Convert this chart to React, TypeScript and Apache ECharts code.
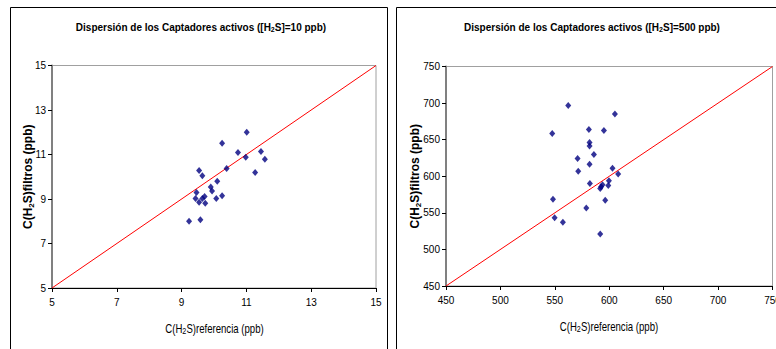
import React, { useEffect, useRef } from "react";
import * as echarts from "echarts";

const leftX = [9.23, 9.58, 9.43, 9.46, 9.54, 9.54, 9.64, 9.64, 9.71, 9.73, 9.9, 9.94, 10.07, 10.1, 10.25, 10.25, 10.39, 10.74, 11.01, 10.98, 11.27, 11.45, 11.57];
const leftY = [8.0, 8.07, 9.02, 9.29, 8.85, 10.28, 10.05, 9.02, 9.11, 8.81, 9.54, 9.36, 9.02, 9.8, 9.15, 11.51, 10.37, 11.09, 12.0, 10.88, 10.19, 11.13, 10.79];
const rightX = [562.3, 605.2, 581.3, 595.1, 547.6, 581.9, 581.9, 585.9, 570.9, 581.9, 603.0, 571.5, 608.2, 599.7, 582.2, 593.8, 592.5, 599.1, 591.7, 548.3, 596.3, 578.9, 549.8, 557.4, 591.7];
const rightY = [696.6, 685.2, 663.8, 662.4, 658.3, 646, 641.5, 629.6, 624.1, 616.4, 610.9, 606.8, 603.2, 594, 590, 588.5, 585.5, 587.2, 583.1, 568.5, 567.1, 556.7, 543.4, 537, 521.1];
const leftRange = [5, 15];
const rightRange = [450, 750];
const leftTitle = "Dispersión de los Captadores activos ([H{s|2}S]=10 ppb)";
const rightTitle = "Dispersión de los Captadores activos ([H{s|2}S]=500 ppb)";
const xName = "C(H{s|2}S)referencia (ppb)";
const yName = "C(H{s|2}S)filtros (ppb)";

const SANS = "'Liberation Sans', Arial, sans-serif";

export default function App() {
  const ref = useRef<HTMLDivElement>(null);
  useEffect(() => {
    if (!ref.current) return;
    const chart = echarts.init(ref.current, undefined, { renderer: "svg" });
    const titleStyle = {
      fontFamily: SANS,
      fontSize: 10,
      fontWeight: "bold",
      color: "#000",
      rich: {
        s: { fontFamily: SANS, fontSize: 7, fontWeight: "bold", verticalAlign: "bottom", lineHeight: 11 },
      },
    };
    const mkX = (gi: number, range: number[], interval: number) => ({
      type: "value",
      gridIndex: gi,
      min: range[0],
      max: range[1],
      interval,
      axisLine: { show: true, lineStyle: { color: "#000", width: 1 } },
      axisTick: { show: true, length: 4, lineStyle: { color: "#000" } },
      axisLabel: { fontFamily: SANS, fontSize: 10, color: "#000", margin: 9, hideOverlap: false },
      splitLine: { show: false },
    });
    const mkY = (gi: number, range: number[], interval: number, gap: number) => ({
      type: "value",
      gridIndex: gi,
      min: range[0],
      max: range[1],
      interval,
      name: yName,
      nameLocation: "middle",
      nameGap: gap,
      nameMoveOverlap: false,
      nameTextStyle: {
        fontFamily: SANS,
        fontSize: 12,
        fontWeight: "bold",
        color: "#000",
        rich: { s: { fontFamily: SANS, fontSize: 8, fontWeight: "bold", verticalAlign: "bottom", lineHeight: 14 } },
      },
      axisLine: { show: true, lineStyle: { color: "#808080", width: 2 } },
      axisTick: { show: true, length: 4, lineStyle: { color: "#000" } },
      axisLabel: { fontFamily: SANS, fontSize: 10, color: "#000", margin: 6 },
      splitLine: { show: false },
    });
    const xNameText = (cx: number, cy: number) => ({
      type: "text",
      x: cx,
      y: cy,
      scaleX: 0.8,
      silent: true,
      style: {
        text: xName,
        fontFamily: SANS,
        fontSize: 12,
        fill: "#000",
        align: "center",
        verticalAlign: "middle",
        rich: { s: { fontFamily: SANS, fontSize: 9, verticalAlign: "bottom", lineHeight: 14 } },
      },
    });
    chart.setOption({
      animation: false,
      backgroundColor: "#fff",
      title: [
        { text: leftTitle, left: 201, top: 22, padding: 0, textAlign: "center", textStyle: titleStyle },
        { text: rightTitle, left: 592, top: 22, padding: 0, textAlign: "center", textStyle: titleStyle },
      ],
      grid: [
        { left: 52, right: 400, top: 65.5, bottom: 61, show: true, borderColor: "#a0a0a0", borderWidth: 1, outerBoundsMode: "none", containLabel: false },
        { left: 446, right: 3.5, top: 66.5, bottom: 63, show: true, borderColor: "#a0a0a0", borderWidth: 1, outerBoundsMode: "none", containLabel: false },
      ],
      xAxis: [mkX(0, leftRange, 2), mkX(1, rightRange, 50)],
      yAxis: [mkY(0, leftRange, 2, 17), mkY(1, rightRange, 50, 24)],
      graphic: [
        { type: "rect", shape: { x: 10.5, y: 7.5, width: 377, height: 400 }, style: { fill: "none", stroke: "#000", lineWidth: 1 }, silent: true, z: 100 },
        { type: "rect", shape: { x: 396.5, y: 7.5, width: 400, height: 400 }, style: { fill: "none", stroke: "#000", lineWidth: 1 }, silent: true, z: 100 },
        xNameText(214.5, 329),
        xNameText(609, 327),
      ],
      series: [
        {
          type: "line",
          xAxisIndex: 0,
          yAxisIndex: 0,
          data: [[leftRange[0], leftRange[0]], [leftRange[1], leftRange[1]]],
          symbol: "none",
          lineStyle: { color: "#ff0000", width: 1 },
          z: 2,
        },
        {
          type: "scatter",
          xAxisIndex: 0,
          yAxisIndex: 0,
          data: leftX.map((x, i) => [x, leftY[i]]),
          symbol: "diamond",
          symbolSize: [6, 7],
          itemStyle: { color: "#000080" },
          z: 3,
        },
        {
          type: "line",
          xAxisIndex: 1,
          yAxisIndex: 1,
          data: [[rightRange[0], rightRange[0]], [rightRange[1], rightRange[1]]],
          symbol: "none",
          lineStyle: { color: "#ff0000", width: 1 },
          z: 2,
        },
        {
          type: "scatter",
          xAxisIndex: 1,
          yAxisIndex: 1,
          data: rightX.map((x, i) => [x, rightY[i]]),
          symbol: "diamond",
          symbolSize: [6, 7],
          itemStyle: { color: "#000080" },
          z: 3,
        },
      ],
    });
    return () => chart.dispose();
  }, []);
  return (
    <div
      ref={ref}
      style={{ position: "fixed", left: 0, top: 0, width: 776, height: 349, background: "#fff" }}
    />
  );
}
